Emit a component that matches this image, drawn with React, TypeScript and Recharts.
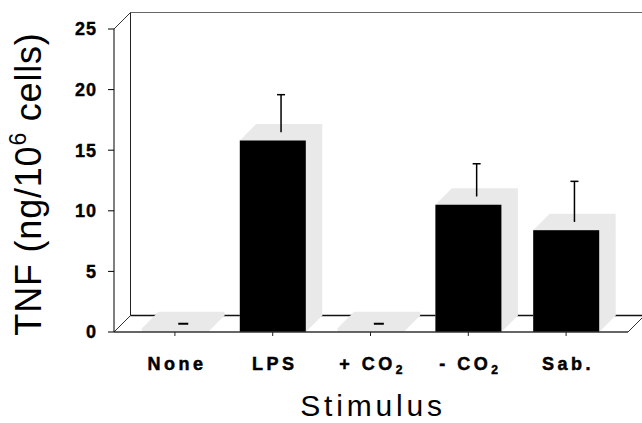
import React from "react";
import { ComposedChart, Bar, XAxis, YAxis } from "recharts";

// values (ng TNF per 10^6 cells, mean and SEM)
const categories = ["None", "LPS", "+ CO2", "- CO2", "Sab."];
const tnf = [0.3, 15.8, 0.3, 10.5, 8.4];
const sem = [0, 3.1, 0, 2.7, 3.35];
const yTicks = [0, 5, 10, 15, 20, 25];

const data = categories.map((name, i) => ({ name, tnf: tnf[i], sem: sem[i] }));

const W = 642;
const H = 423;
// front plane of the 3D box
const PLOT = { left: 114, top: 29, right: 628, bottom: 332 };
const DEPTH = 16.5;
const XH = 40;
const YW = 60;
const FONT = "'Liberation Sans', Arial, Helvetica, sans-serif";

function Bar3D(props: any) {
  const { x, y, width, height, payload } = props;
  const d = DEPTH;
  const base = y + height;
  const ex = x + width / 2 + d / 2;
  const ey = y - d / 2;
  const ppu = payload.tnf > 0 ? height / payload.tnf : 0;
  const small = payload.tnf < 1;
  const errTop = ey - payload.sem * ppu;
  const pts = [
    [x, base],
    [x, y],
    [x + d, y - d],
    [x + width + d, y - d],
    [x + width + d, base - d],
    [x + width, base],
  ]
    .map((p) => p.join(","))
    .join(" ");
  return (
    <g>
      <polygon points={pts} fill="#e9e9e9" />
      {small ? (
        <line x1={ex - 5} x2={ex + 5} y1={base - d / 2} y2={base - d / 2} stroke="#000" strokeWidth={2} />
      ) : (
        <rect x={x} y={y} width={width} height={height} fill="#000" />
      )}
      {payload.sem > 0 && (
        <g stroke="#000" strokeWidth={1.5}>
          <line x1={ex} x2={ex} y1={ey} y2={errTop} />
          <line x1={ex - 4} x2={ex + 4} y1={errTop} y2={errTop} />
        </g>
      )}
    </g>
  );
}

function CatTick(props: any) {
  const { x, payload } = props;
  const label: string = payload.value;
  const sub = label.endsWith("CO2");
  return (
    <text
      x={x + 2}
      y={PLOT.bottom + 38}
      textAnchor="middle"
      fontFamily={FONT}
      fontWeight="bold"
      fontSize={18}
      letterSpacing={3.5}
      fill="#000"
      stroke="#000"
      strokeWidth={0.5}
    >
      {sub ? (
        <>
          {label.slice(0, -1)}
          <tspan fontSize={12} dy={4}>
            2
          </tspan>
        </>
      ) : (
        label
      )}
    </text>
  );
}

function Frame() {
  const { left, top, right, bottom } = PLOT;
  const d = DEPTH;
  const tx = 41;
  const ty = 184;
  return (
    <svg width={W} height={H} style={{ position: "absolute", left: 0, top: 0 }}>
      <g fill="none">
        <line x1={left + d} y1={top - d} x2={W} y2={top - d} stroke="#666" />
        <line x1={left + d} y1={top - d} x2={left + d} y2={bottom - d} stroke="#222" />
        <line x1={left} y1={top} x2={left + d} y2={top - d} stroke="#333" />
        <line x1={left} y1={bottom} x2={left + d} y2={bottom - d} stroke="#333" />
        <line x1={left + d} y1={bottom - d} x2={W} y2={bottom - d} stroke="#111" strokeWidth={1.5} />
        <line x1={right} y1={bottom} x2={right + d} y2={bottom - d} stroke="#333" />
      </g>
      <text
        x={tx}
        y={ty}
        transform={`rotate(-90 ${tx} ${ty})`}
        textAnchor="middle"
        fontFamily={FONT}
        fontSize={36}
        letterSpacing={0.8}
        fill="#000"
      >
        <tspan>TNF (ng/10</tspan>
        <tspan fontSize={23} dy={-15}>
          6
        </tspan>
        <tspan dy={15}> cells)</tspan>
      </text>
      <text x={373} y={416} textAnchor="middle" fontFamily={FONT} fontSize={30} letterSpacing={3.8} fill="#000">
        Stimulus
      </text>
    </svg>
  );
}

export default function App() {
  return (
    <div style={{ position: "absolute", left: 0, top: 0, width: W, height: H, background: "#fff", overflow: "hidden" }}>
      <Frame />
      <div style={{ position: "absolute", left: 0, top: 0 }}>
        <ComposedChart
          width={W}
          height={H}
          data={data}
          margin={{ top: PLOT.top, right: W - PLOT.right, bottom: H - PLOT.bottom - XH, left: PLOT.left - YW }}
        >
          <XAxis
            dataKey="name"
            height={XH}
            interval={0}
            padding={{ left: 12, right: 13 }}
            tickSize={4}
            tickLine={{ stroke: "#222" }}
            axisLine={{ stroke: "#333", strokeWidth: 1.5 }}
            tick={<CatTick />}
          />
          <YAxis
            width={YW}
            domain={[0, 25]}
            ticks={yTicks}
            interval={0}
            tickSize={6}
            tickMargin={11}
            tickLine={{ stroke: "#000" }}
            axisLine={{ stroke: "#000" }}
            tick={{
              fontSize: 18,
              fontWeight: "bold",
              fill: "#000",
              stroke: "#000",
              strokeWidth: 0.4,
              fontFamily: FONT,
              letterSpacing: 1,
            }}
          />
          <Bar dataKey="tnf" barSize={66} isAnimationActive={false} shape={(p: any) => <Bar3D {...p} />} />
        </ComposedChart>
      </div>
    </div>
  );
}
